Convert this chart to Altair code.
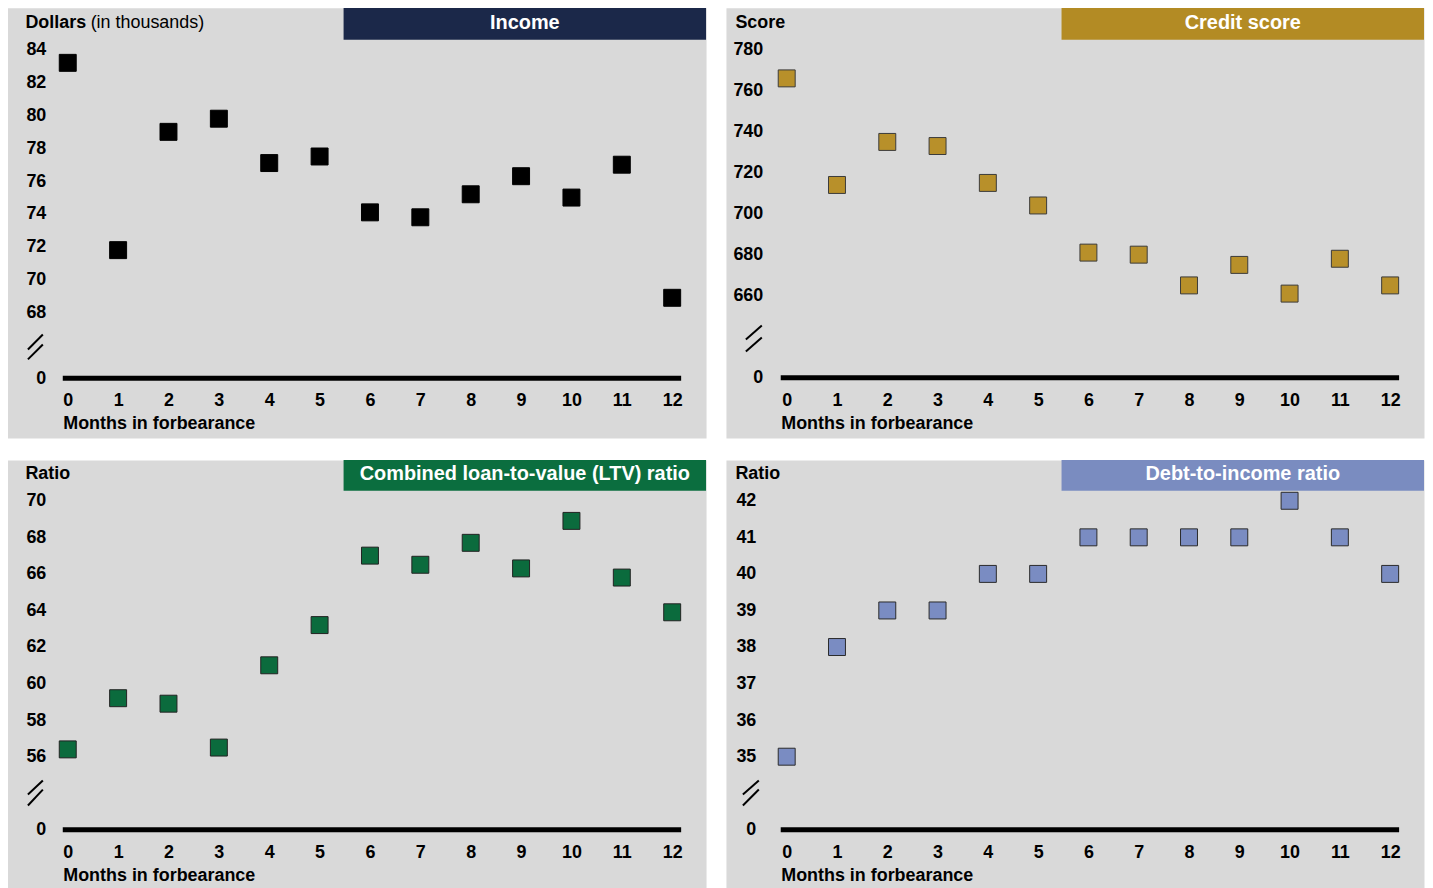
import altair as alt
import pandas as pd

FONT = "Liberation Sans, Arial, sans-serif"

months = list(range(13))
income = [83.2, 71.8, 79.0, 79.8, 77.1, 77.5, 74.1, 73.8, 75.2, 76.3, 75.0, 77.0, 68.9]
credit = [766, 714, 735, 733, 715, 704, 681, 680, 665, 675, 661, 678, 665]
ltv = [56.4, 59.2, 58.9, 56.5, 61.0, 63.2, 67.0, 66.5, 67.7, 66.3, 68.9, 65.8, 63.9]
dti = [35, 38, 39, 39, 40, 40, 41, 41, 41, 41, 42, 41, 40]

income_ticks = list(range(68, 85, 2))
credit_ticks = list(range(660, 781, 20))
ltv_ticks = list(range(56, 71, 2))
dti_ticks = list(range(35, 43))

bar_titles = ["Income", "Credit score", "Combined loan-to-value (LTV) ratio", "Debt-to-income ratio"]
y_titles = ["Dollars", "Score", "Ratio", "Ratio"]
y_title_extra = [" (in thousands)", "", "", ""]
x_title = "Months in forbearance"

bar_colors = ["#1B2849", "#B38B24", "#0B6E3F", "#7A8CC0"]
point_fill = ["#000000", "#B8902A", "#0B6B3D", "#7A8CC2"]
point_stroke = ["#000000", "#3A3A3A", "#222222", "#2A2A2A"]


def lin_domain(v1, p1, v2, p2, size):
    k = (p2 - p1) / (v2 - v1)
    a = v1 + (0 - p1) / k
    b = v1 + (size - p1) / k
    return [min(a, b), max(a, b)]


def panel(i, values, ticks, g):
    W, H = g["W"], g["H"]
    df = pd.DataFrame({"month": months, "value": values})
    step = ticks[1] - ticks[0]
    base = ticks[0] - 2 * step
    xdom = lin_domain(0, g["x0"], 12, g["x12"], W)
    ydom = lin_domain(ticks[-1], g["ytop"], ticks[0], g["ybot"], H)
    xscale = alt.Scale(domain=xdom, nice=False, zero=False)
    yscale = alt.Scale(domain=ydom, nice=False, zero=False)

    xaxis = alt.Axis(
        values=months, orient="bottom", offset=-(H - g["xlab"]),
        domain=False, ticks=False, tickSize=0, grid=False,
        labelPadding=0, labelBaseline="middle", labelFont=FONT,
        labelFontSize=18, labelFontWeight="bold", labelColor="#000000",
        labelFlush=False, labelOverlap=False,
        title=x_title, titleFont=FONT, titleFontSize=18, titleFontWeight="bold",
        titleColor="#000000", titleX=g["xt"], titleY=23, titleAlign="left",
        titleBaseline="middle",
    )
    yaxis = alt.Axis(
        values=[base] + ticks, orient="left", offset=-g["ylr"],
        domain=False, ticks=False, tickSize=0, grid=False,
        labelPadding=0, labelBaseline="middle", labelFont=FONT,
        labelFontSize=18, labelFontWeight="bold", labelColor="#000000",
        labelOverlap=False, labelFlush=False,
        labelExpr=f"datum.value == {base} ? '0' : datum.label",
        title=y_titles[i], titleFont=FONT, titleFontSize=18, titleFontWeight="bold",
        titleColor="#000000", titleAngle=0, titleX=g["ytx"] - g["ylr"], titleY=g["yty"],
        titleAlign="left", titleBaseline="middle",
    )

    one = alt.Data(values=[{}])

    pts = alt.Chart(df).mark_square(
        size=290, filled=True, fill=point_fill[i], stroke=point_stroke[i],
        strokeWidth=1, opacity=1,
    ).encode(
        x=alt.X("month:Q", scale=xscale, axis=xaxis),
        y=alt.Y("value:Q", scale=yscale, axis=yaxis),
    )

    baseline = alt.Chart(one).mark_rule(color="#000000", strokeWidth=5).encode(
        x=alt.value(g["r0"]), x2=alt.value(g["r1"]), y=alt.datum(base),
    )

    layers = [baseline]
    for (ax, ay, bx, by) in g["breaks"]:
        layers.append(
            alt.Chart(one).mark_rule(color="#000000", strokeWidth=2).encode(
                x=alt.value(ax), y=alt.value(ay), x2=alt.value(bx), y2=alt.value(by)
            )
        )

    bar = alt.Chart(one).mark_rect(color=bar_colors[i]).encode(
        x=alt.value(g["bx"]), x2=alt.value(W), y=alt.value(0), y2=alt.value(g["bh"]),
    )
    bar_text = alt.Chart(one).mark_text(
        text=bar_titles[i], font=FONT, fontSize=20, fontWeight="bold",
        color="#FFFFFF", align="center", baseline="middle",
    ).encode(x=alt.value((g["bx"] + W) / 2), y=alt.value(g["bty"]))
    layers += [bar, bar_text]

    if y_title_extra[i]:
        layers.append(
            alt.Chart(one).mark_text(
                text=y_title_extra[i].strip(), font=FONT, fontSize=18, fontWeight="normal",
                color="#000000", align="left", baseline="middle",
            ).encode(x=alt.value(g["ytx"] + 66), y=alt.value(g["yty"]))
        )

    return alt.layer(pts, *layers).properties(width=W, height=H)


g_tl = dict(W=702, H=432, x0=61, x12=668, ytop=42, ybot=306, ylr=39, xlab=394, xt=56,
            ytx=18, yty=15, r0=56, r1=677, bx=338, bh=32, bty=15,
            breaks=[(21, 343, 36, 328), (21, 353, 36, 338)])
g_tr = dict(W=701, H=432, x0=61, x12=667, ytop=42, ybot=289, ylr=37, xlab=394, xt=55,
            ytx=9, yty=15, r0=55, r1=676, bx=337, bh=32, bty=15,
            breaks=[(20, 333, 36, 319), (20, 345, 36, 331)])
g_bl = dict(W=702, H=431, x0=61, x12=668, ytop=41, ybot=298, ylr=39, xlab=394, xt=56,
            ytx=18, yty=14, r0=56, r1=677, bx=338, bh=31, bty=14,
            breaks=[(21, 336, 36, 322), (21, 347, 36, 331)])
g_br = dict(W=701, H=431, x0=61, x12=667, ytop=41, ybot=298, ylr=30, xlab=394, xt=55,
            ytx=9, yty=14, r0=55, r1=676, bx=337, bh=31, bty=14,
            breaks=[(17, 336, 33, 322), (17, 347, 33, 331)])

p1 = panel(0, income, income_ticks, g_tl)
p2 = panel(1, credit, credit_ticks, g_tr)
p3 = panel(2, ltv, ltv_ticks, g_bl)
p4 = panel(3, dti, dti_ticks, g_br)

chart = alt.vconcat(
    alt.hconcat(p1, p2, spacing=18),
    alt.hconcat(p3, p4, spacing=18),
    spacing=20,
).properties(
    padding={"left": -2, "top": -3, "right": 0, "bottom": 0},
    background="#FFFFFF",
).configure_view(
    fill="#D9D9D9", stroke="transparent"
)

chart.save("out.html", embed_options={"renderer": "svg", "actions": False})
